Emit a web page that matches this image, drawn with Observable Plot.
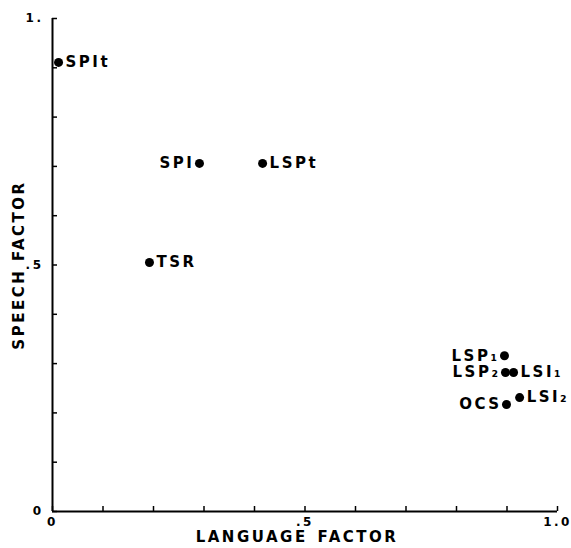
<!DOCTYPE html>
<html><head><meta charset="utf-8">
<script src="https://cdn.jsdelivr.net/npm/d3@7"></script>
<script src="https://cdn.jsdelivr.net/npm/@observablehq/plot@0.6"></script>
<style>
body{margin:0;background:#fff}
#chart text{letter-spacing:2.5px}
</style></head><body><div id="chart"></div>
<script>
// Data
const names = ["SPIt", "SPI", "LSPt", "TSR", "LSP₁", "LSP₂", "LSI₁", "OCS", "LSI₂"];
const languageFactor = [0.012, 0.291, 0.416, 0.192, 0.895, 0.897, 0.913, 0.899, 0.925];
const speechFactor = [0.911, 0.706, 0.706, 0.505, 0.316, 0.282, 0.282, 0.217, 0.231];
const labelSide = ["right", "left", "right", "right", "left", "left", "right", "left", "right"];
const tickValues = [0, 0.1, 0.2, 0.3, 0.4, 0.5, 0.6, 0.7, 0.8, 0.9, 1];
const labeledTicks = [0, 0.5, 1];
const xTickLabels = ["0", ".5", "1.0"];
const yTickLabels = ["0", ".5", "1."];
const xTitle = "LANGUAGE\u2002FACTOR";
const yTitle = "SPEECH FACTOR";

const data = names.map((name, i) => ({name, x: languageFactor[i], y: speechFactor[i], side: labelSide[i]}));

const chart = Plot.plot({
  width: 571, height: 548,
  marginLeft: 52, marginRight: 14, marginTop: 18, marginBottom: 37,
  style: {fontFamily: "'DejaVu Sans', sans-serif", fontWeight: "bold", color: "#000", background: "#fff"},
  x: {domain: [0, 1], label: null},
  y: {domain: [0, 1], label: null},
  marks: [
    Plot.axisX({ticks: tickValues, tickSize: -5, tickFormat: () => "", strokeWidth: 1.5, label: null}),
    Plot.axisX({ticks: labeledTicks, tickSize: 0, tickPadding: 6, fontSize: 12,
      tickFormat: d => xTickLabels[labeledTicks.indexOf(d)], label: null}),
    Plot.axisY({ticks: tickValues, tickSize: -5, tickFormat: () => "", strokeWidth: 1.5, label: null}),
    Plot.axisY({ticks: labeledTicks, tickSize: 0, tickPadding: 9, fontSize: 12,
      tickFormat: d => yTickLabels[labeledTicks.indexOf(d)], label: null}),
    Plot.ruleX([0], {strokeWidth: 2}),
    Plot.ruleY([0], {strokeWidth: 2}),
    Plot.dot(data, {x: "x", y: "y", r: 4.5, fill: "#000", stroke: null}),
    Plot.text(data.filter(d => d.side === "right"), {x: "x", y: "y", text: "name", textAnchor: "start", dx: 7, fontSize: 15}),
    Plot.text(data.filter(d => d.side === "left"), {x: "x", y: "y", text: "name", textAnchor: "end", dx: -5, fontSize: 15}),
    Plot.text([xTitle], {frameAnchor: "bottom", dy: 30, dx: -8, fontSize: 15}),
    Plot.text([yTitle], {frameAnchor: "left", dx: -33, rotate: -90, textAnchor: "middle", fontSize: 15})
  ]
});
document.getElementById("chart").appendChild(chart);
</script>
</body></html>
